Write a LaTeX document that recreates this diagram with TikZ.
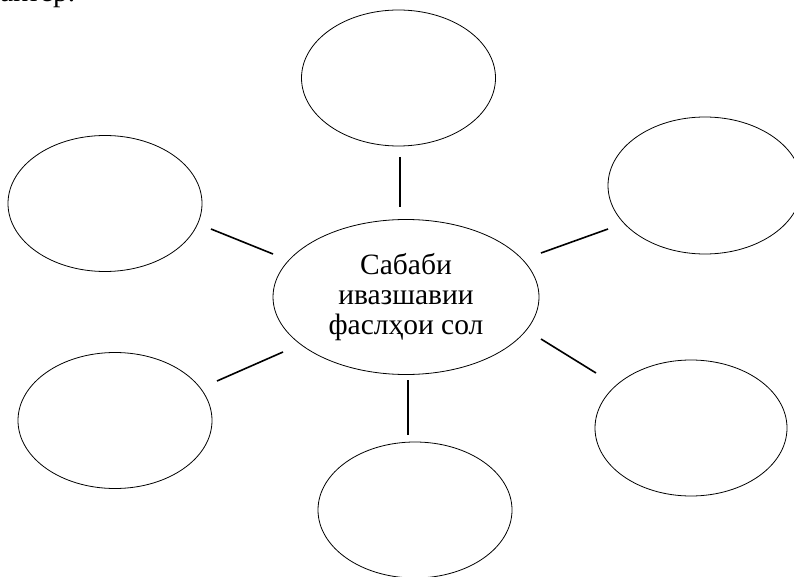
\documentclass[tikz,border=0pt]{standalone}
\usepackage{fontspec}
\setmainfont{Liberation Serif}
\usetikzlibrary{shapes.geometric}
\begin{document}
\begin{tikzpicture}[x=1pt,y=-1pt,
  bubble/.style={draw, ellipse, line width=0.8pt, inner sep=0pt,
    minimum width=194pt, minimum height=136pt},
  link/.style={line width=1.6pt},
  txt/.style={font=\fontsize{29.5}{30}\selectfont}]
\useasboundingbox (0,0) rectangle (794,577);
\node[txt, anchor=base west, inner sep=0pt] (frag) at (0,2) {актер.};
\node[bubble] (top) at (398.5,78) {};
\node[bubble] (lt) at (105,203.5) {};
\node[bubble, minimum height=137pt] (rt) at (705,185.5) {};
\node[bubble] (lb) at (115,420.5) {};
\node[bubble, minimum width=192pt] (rb) at (691,428) {};
\node[bubble] (bot) at (415,510) {};
\node[draw, ellipse, line width=0.8pt, inner sep=0pt, minimum width=266pt, minimum height=155pt,
  align=center, txt] (c) at (406,297) {Сабаби\\ивазшавии\\фаслҳои сол};
\coordinate (t1) at (400,157); \coordinate (t2) at (400,207);
\coordinate (a1) at (211,229); \coordinate (a2) at (273,254);
\coordinate (b1) at (608,229); \coordinate (b2) at (541,253);
\coordinate (d1) at (217,381); \coordinate (d2) at (283,352);
\coordinate (e1) at (408,380); \coordinate (e2) at (408,435);
\coordinate (f1) at (541,339); \coordinate (f2) at (596,373);
\draw[link] (t1) -- (t2);
\draw[link] (a1) -- (a2);
\draw[link] (b1) -- (b2);
\draw[link] (d1) -- (d2);
\draw[link] (e1) -- (e2);
\draw[link] (f1) -- (f2);
\end{tikzpicture}
\end{document}
